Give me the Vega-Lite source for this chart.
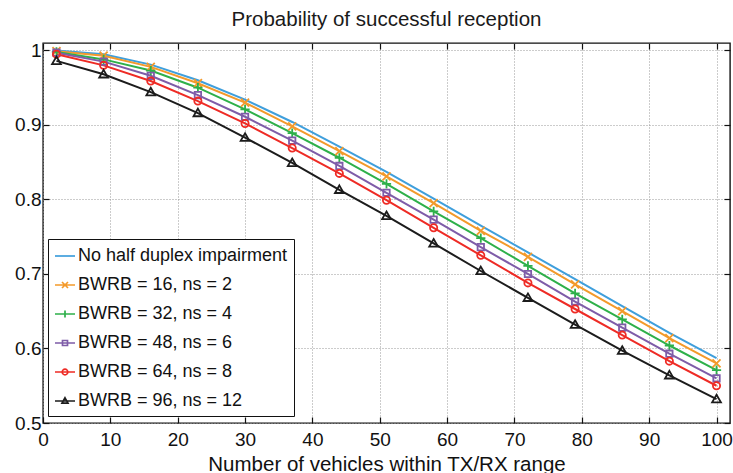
{
  "$schema": "https://vega.github.io/schema/vega-lite/v6.json",
  "width": 687,
  "height": 380,
  "autosize": {"type": "none"},
  "padding": {"left": 43, "top": 43, "right": 3, "bottom": 50},
  "background": "white",
  "title": {
    "text": "Probability of successful reception",
    "font": "Liberation Sans",
    "fontSize": 20.5,
    "fontWeight": "normal",
    "color": "#1a1a1a",
    "anchor": "middle",
    "baseline": "alphabetic",
    "offset": -5
  },
  "config": {
    "view": {"stroke": "#111111", "strokeWidth": 1.4},
    "axis": {
      "labelFont": "Liberation Sans",
      "titleFont": "Liberation Sans",
      "labelColor": "#111111",
      "titleColor": "#111111",
      "titleFontWeight": "normal",
      "domain": false,
      "tickColor": "#111111",
      "tickWidth": 1.2,
      "gridColor": "#999999",
      "gridDash": [1, 2],
      "gridWidth": 1
    }
  },
  "datasets": {
    "curves": [
      {"series": "No half duplex impairment", "x": 2, "y": 1.0},
      {"series": "No half duplex impairment", "x": 9, "y": 0.995},
      {"series": "No half duplex impairment", "x": 16, "y": 0.981},
      {"series": "No half duplex impairment", "x": 23, "y": 0.96},
      {"series": "No half duplex impairment", "x": 30, "y": 0.934},
      {"series": "No half duplex impairment", "x": 37, "y": 0.904},
      {"series": "No half duplex impairment", "x": 44, "y": 0.871},
      {"series": "No half duplex impairment", "x": 51, "y": 0.837},
      {"series": "No half duplex impairment", "x": 58, "y": 0.801},
      {"series": "No half duplex impairment", "x": 65, "y": 0.765},
      {"series": "No half duplex impairment", "x": 72, "y": 0.729},
      {"series": "No half duplex impairment", "x": 79, "y": 0.693},
      {"series": "No half duplex impairment", "x": 86, "y": 0.657},
      {"series": "No half duplex impairment", "x": 93, "y": 0.621},
      {"series": "No half duplex impairment", "x": 100, "y": 0.587},
      {"series": "BWRB = 16, ns = 2", "x": 2, "y": 0.999},
      {"series": "BWRB = 16, ns = 2", "x": 9, "y": 0.993},
      {"series": "BWRB = 16, ns = 2", "x": 16, "y": 0.978},
      {"series": "BWRB = 16, ns = 2", "x": 23, "y": 0.956},
      {"series": "BWRB = 16, ns = 2", "x": 30, "y": 0.93},
      {"series": "BWRB = 16, ns = 2", "x": 37, "y": 0.898},
      {"series": "BWRB = 16, ns = 2", "x": 44, "y": 0.865},
      {"series": "BWRB = 16, ns = 2", "x": 51, "y": 0.831},
      {"series": "BWRB = 16, ns = 2", "x": 58, "y": 0.795},
      {"series": "BWRB = 16, ns = 2", "x": 65, "y": 0.758},
      {"series": "BWRB = 16, ns = 2", "x": 72, "y": 0.723},
      {"series": "BWRB = 16, ns = 2", "x": 79, "y": 0.686},
      {"series": "BWRB = 16, ns = 2", "x": 86, "y": 0.65},
      {"series": "BWRB = 16, ns = 2", "x": 93, "y": 0.614},
      {"series": "BWRB = 16, ns = 2", "x": 100, "y": 0.58},
      {"series": "BWRB = 32, ns = 4", "x": 2, "y": 0.998},
      {"series": "BWRB = 32, ns = 4", "x": 9, "y": 0.988},
      {"series": "BWRB = 32, ns = 4", "x": 16, "y": 0.973},
      {"series": "BWRB = 32, ns = 4", "x": 23, "y": 0.95},
      {"series": "BWRB = 32, ns = 4", "x": 30, "y": 0.921},
      {"series": "BWRB = 32, ns = 4", "x": 37, "y": 0.889},
      {"series": "BWRB = 32, ns = 4", "x": 44, "y": 0.856},
      {"series": "BWRB = 32, ns = 4", "x": 51, "y": 0.821},
      {"series": "BWRB = 32, ns = 4", "x": 58, "y": 0.784},
      {"series": "BWRB = 32, ns = 4", "x": 65, "y": 0.748},
      {"series": "BWRB = 32, ns = 4", "x": 72, "y": 0.711},
      {"series": "BWRB = 32, ns = 4", "x": 79, "y": 0.674},
      {"series": "BWRB = 32, ns = 4", "x": 86, "y": 0.639},
      {"series": "BWRB = 32, ns = 4", "x": 93, "y": 0.604},
      {"series": "BWRB = 32, ns = 4", "x": 100, "y": 0.571},
      {"series": "BWRB = 48, ns = 6", "x": 2, "y": 0.997},
      {"series": "BWRB = 48, ns = 6", "x": 9, "y": 0.985},
      {"series": "BWRB = 48, ns = 6", "x": 16, "y": 0.966},
      {"series": "BWRB = 48, ns = 6", "x": 23, "y": 0.94},
      {"series": "BWRB = 48, ns = 6", "x": 30, "y": 0.911},
      {"series": "BWRB = 48, ns = 6", "x": 37, "y": 0.879},
      {"series": "BWRB = 48, ns = 6", "x": 44, "y": 0.845},
      {"series": "BWRB = 48, ns = 6", "x": 51, "y": 0.809},
      {"series": "BWRB = 48, ns = 6", "x": 58, "y": 0.773},
      {"series": "BWRB = 48, ns = 6", "x": 65, "y": 0.736},
      {"series": "BWRB = 48, ns = 6", "x": 72, "y": 0.7},
      {"series": "BWRB = 48, ns = 6", "x": 79, "y": 0.663},
      {"series": "BWRB = 48, ns = 6", "x": 86, "y": 0.628},
      {"series": "BWRB = 48, ns = 6", "x": 93, "y": 0.593},
      {"series": "BWRB = 48, ns = 6", "x": 100, "y": 0.56},
      {"series": "BWRB = 64, ns = 8", "x": 2, "y": 0.995},
      {"series": "BWRB = 64, ns = 8", "x": 9, "y": 0.98},
      {"series": "BWRB = 64, ns = 8", "x": 16, "y": 0.959},
      {"series": "BWRB = 64, ns = 8", "x": 23, "y": 0.932},
      {"series": "BWRB = 64, ns = 8", "x": 30, "y": 0.902},
      {"series": "BWRB = 64, ns = 8", "x": 37, "y": 0.869},
      {"series": "BWRB = 64, ns = 8", "x": 44, "y": 0.835},
      {"series": "BWRB = 64, ns = 8", "x": 51, "y": 0.799},
      {"series": "BWRB = 64, ns = 8", "x": 58, "y": 0.762},
      {"series": "BWRB = 64, ns = 8", "x": 65, "y": 0.725},
      {"series": "BWRB = 64, ns = 8", "x": 72, "y": 0.688},
      {"series": "BWRB = 64, ns = 8", "x": 79, "y": 0.653},
      {"series": "BWRB = 64, ns = 8", "x": 86, "y": 0.618},
      {"series": "BWRB = 64, ns = 8", "x": 93, "y": 0.583},
      {"series": "BWRB = 64, ns = 8", "x": 100, "y": 0.55},
      {"series": "BWRB = 96, ns = 12", "x": 2, "y": 0.986},
      {"series": "BWRB = 96, ns = 12", "x": 9, "y": 0.968},
      {"series": "BWRB = 96, ns = 12", "x": 16, "y": 0.944},
      {"series": "BWRB = 96, ns = 12", "x": 23, "y": 0.916},
      {"series": "BWRB = 96, ns = 12", "x": 30, "y": 0.883},
      {"series": "BWRB = 96, ns = 12", "x": 37, "y": 0.849},
      {"series": "BWRB = 96, ns = 12", "x": 44, "y": 0.813},
      {"series": "BWRB = 96, ns = 12", "x": 51, "y": 0.778},
      {"series": "BWRB = 96, ns = 12", "x": 58, "y": 0.741},
      {"series": "BWRB = 96, ns = 12", "x": 65, "y": 0.704},
      {"series": "BWRB = 96, ns = 12", "x": 72, "y": 0.668},
      {"series": "BWRB = 96, ns = 12", "x": 79, "y": 0.632},
      {"series": "BWRB = 96, ns = 12", "x": 86, "y": 0.597},
      {"series": "BWRB = 96, ns = 12", "x": 93, "y": 0.564},
      {"series": "BWRB = 96, ns = 12", "x": 100, "y": 0.532}
    ]
  },
  "data": {"name": "curves"},
  "layer": [
    {
      "layer": [
        {
          "mark": {"type": "line", "strokeWidth": 2},
          "encoding": {
            "x": {
              "field": "x", "type": "quantitative",
              "scale": {"domain": [0, 102], "nice": false, "zero": false},
              "axis": {
                "orient": "bottom",
                "values": [0, 10, 20, 30, 40, 50, 60, 70, 80, 90, 100],
                "title": "Number of vehicles within TX/RX range",
                "titleFontSize": 20.5,
                "titlePadding": 5,
                "labelFontSize": 19,
                "labelFlush": false,
                "labelOverlap": false,
                "tickSize": -6,
                "labelPadding": 13,
                "grid": true
              }
            },
            "y": {
              "field": "y", "type": "quantitative",
              "scale": {"domain": [0.5, 1.01], "nice": false, "zero": false},
              "axis": {
                "orient": "left",
                "values": [0.5, 0.6, 0.7, 0.8, 0.9, 1.0],
                "format": ".1~f",
                "title": null,
                "labelFontSize": 19,
                "labelOverlap": false,
                "tickSize": -6,
                "labelPadding": 8,
                "grid": true
              }
            },
            "color": {
              "field": "series", "type": "nominal",
              "scale": {
                "domain": ["No half duplex impairment", "BWRB = 16, ns = 2", "BWRB = 32, ns = 4", "BWRB = 48, ns = 6", "BWRB = 64, ns = 8", "BWRB = 96, ns = 12"],
                "range": ["#3f9fdc", "#f39a2b", "#2eb04a", "#7e5ca8", "#ee2b25", "#1c1c1c"]
              },
              "legend": null
            },
            "detail": {"field": "series"}
          }
        },
        {
          "mark": {"type": "point", "filled": false, "strokeWidth": 1.8, "size": 64, "opacity": 1},
          "encoding": {
            "x": {"field": "x", "type": "quantitative"},
            "y": {"field": "y", "type": "quantitative"},
            "color": {
              "field": "series", "type": "nominal",
              "scale": {
                "domain": ["No half duplex impairment", "BWRB = 16, ns = 2", "BWRB = 32, ns = 4", "BWRB = 48, ns = 6", "BWRB = 64, ns = 8", "BWRB = 96, ns = 12"],
                "range": ["#3f9fdc", "#f39a2b", "#2eb04a", "#7e5ca8", "#ee2b25", "#1c1c1c"]
              },
              "legend": null
            },
            "shape": {
              "field": "series", "type": "nominal",
              "scale": {
                "domain": ["No half duplex impairment", "BWRB = 16, ns = 2", "BWRB = 32, ns = 4", "BWRB = 48, ns = 6", "BWRB = 64, ns = 8", "BWRB = 96, ns = 12"],
                "range": ["M0,0", "M-1,-1L1,1M-1,1L1,-1", "M-1.15,0H1.15M0,-1.15V1.15", "M-0.8,-0.8H0.8V0.8H-0.8Z", "M-0.9,0A0.9,0.9,0,1,0,0.9,0A0.9,0.9,0,1,0,-0.9,0Z", "M0,-1.1L1.1,0.8H-1.1Z"]
              },
              "legend": null
            }
          }
        },
        {
          "mark": {"type": "point", "filled": false, "strokeWidth": 1.7, "opacity": 0},
          "encoding": {
            "x": {"field": "x", "type": "quantitative"},
            "y": {"field": "y", "type": "quantitative"},
            "color": {
              "field": "series", "type": "nominal",
              "scale": {
                "domain": ["No half duplex impairment", "BWRB = 16, ns = 2", "BWRB = 32, ns = 4", "BWRB = 48, ns = 6", "BWRB = 64, ns = 8", "BWRB = 96, ns = 12"],
                "range": ["#3f9fdc", "#f39a2b", "#2eb04a", "#7e5ca8", "#ee2b25", "#1c1c1c"]
              },
              "legend": {
                "orient": "none",
                "legendX": 5,
                "legendY": 196,
                "title": null,
                "fillColor": "white",
                "strokeColor": "#111111",
                "padding": 6,
                "rowPadding": 9,
                "symbolSize": 400,
                "symbolStrokeWidth": 1.7,
                "symbolOpacity": 1,
                "labelFont": "Liberation Sans",
                "labelFontSize": 18,
                "labelColor": "#111111",
                "labelOffset": 2,
                "labelLimit": 400
              }
            },
            "shape": {
              "field": "series", "type": "nominal",
              "scale": {
                "domain": ["No half duplex impairment", "BWRB = 16, ns = 2", "BWRB = 32, ns = 4", "BWRB = 48, ns = 6", "BWRB = 64, ns = 8", "BWRB = 96, ns = 12"],
                "range": ["M-1,0H1", "M-1,0H1M-0.3,-0.3L0.3,0.3M-0.3,0.3L0.3,-0.3", "M-1,0H1M0,-0.35V0.35", "M-1,0H1M-0.25,-0.25H0.25V0.25H-0.25Z", "M-1,0H1M-0.28,0A0.28,0.28,0,1,0,0.28,0A0.28,0.28,0,1,0,-0.28,0Z", "M-1,0H1M0,-0.32L0.3,0.22H-0.3Z"]
              },
              "legend": {
                "orient": "none",
                "legendX": 5,
                "legendY": 196,
                "title": null,
                "fillColor": "white",
                "strokeColor": "#111111",
                "padding": 6,
                "rowPadding": 9,
                "symbolSize": 400,
                "symbolStrokeWidth": 1.7,
                "symbolOpacity": 1,
                "labelFont": "Liberation Sans",
                "labelFontSize": 18,
                "labelColor": "#111111",
                "labelOffset": 2,
                "labelLimit": 400
              }
            }
          }
        }
      ],
      "resolve": {
        "scale": {"color": "independent", "shape": "independent"},
        "legend": {"color": "independent", "shape": "independent"}
      }
    },
    {
      "mark": {"type": "point", "opacity": 0},
      "encoding": {
        "x": {
          "field": "x", "type": "quantitative",
          "axis": {
            "orient": "top",
            "values": [0, 10, 20, 30, 40, 50, 60, 70, 80, 90, 100],
            "labels": false,
            "title": null,
            "grid": false,
            "tickSize": -6
          }
        },
        "y": {
          "field": "y", "type": "quantitative",
          "axis": {
            "orient": "right",
            "values": [0.5, 0.6, 0.7, 0.8, 0.9, 1.0],
            "labels": false,
            "title": null,
            "grid": false,
            "tickSize": -6
          }
        }
      }
    }
  ],
  "resolve": {"axis": {"x": "independent", "y": "independent"}}
}
